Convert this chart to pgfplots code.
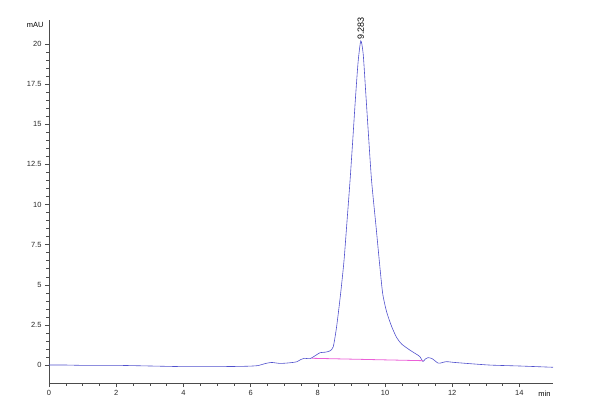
\documentclass[border=0pt]{standalone}
\usepackage{fontspec}
\setmainfont{Liberation Sans}
\usepackage{pgfplots}
\pgfplotsset{compat=1.18}
\definecolor{trace}{RGB}{80,80,205}
\definecolor{base}{RGB}{235,95,215}
\begin{document}
\begin{tikzpicture}
\begin{axis}[
  scale only axis,
  width=504bp, height=363bp,
  xmin=0, xmax=15, ymin=-1.12, ymax=21.5,
  axis lines*=left,
  axis line style={black!70, line width=0.5pt},
  xtick={0,2,...,14}, ytick={0,2.5,...,20},
  minor x tick num=3, minor y tick num=4,
  tick align=outside,
  major tick length=4bp, minor tick length=2.5bp,
  tick style={black!70, line width=0.5pt},
  every tick label/.style={font=\fontsize{7.5}{8}\selectfont, text=black!85},
  /pgf/number format/assume math mode=true,
  yticklabel style={/pgf/number format/fixed},
  xlabel={min}, ylabel={mAU},
  xlabel style={at={(rel axis cs:0.983,0)}, anchor=north, yshift=-5bp, font=\fontsize{7.5}{8}\selectfont},
  ylabel style={at={(rel axis cs:0,0.985)}, anchor=east, rotate=-90, xshift=-2bp, font=\fontsize{7.5}{8}\selectfont},
  clip=false,
]
\addplot[trace, line width=0.6pt, smooth, tension=0.4] coordinates {
(0,0) (0.5,0.0) (1,-0.02) (2,-0.02) (3,-0.06) (4,-0.1) (5,-0.1) (5.8,-0.08)
(6.2,-0.04) (6.45,0.1) (6.63,0.16) (6.88,0.1) (7.17,0.14) (7.37,0.2) (7.5,0.35)
(7.6,0.42) (7.77,0.4) (7.95,0.62) (8.07,0.77) (8.22,0.8) (8.36,0.88) (8.46,1.14)
(8.56,2.39) (8.68,4.47) (8.78,6.5) (8.86,8.7) (8.96,11.5) (9.04,14.0)
(9.12,16.6) (9.20,18.9) (9.28,20.2) (9.35,19.4) (9.42,17.2) (9.50,14.6)
(9.60,11.5) (9.73,8.7) (9.83,6.5) (9.93,4.47) (10.05,3.3) (10.2,2.39) (10.35,1.7)
(10.5,1.3) (10.74,0.93) (10.9,0.72) (11.04,0.52) (11.13,0.22) (11.2,0.38)
(11.28,0.46) (11.4,0.4) (11.58,0.12) (11.7,0.15) (11.83,0.21) (12.13,0.15)
(13.1,0.0) (14.0,-0.06) (15.0,-0.14)
};
\addplot[base, line width=0.8pt] coordinates {(7.82,0.42) (11.14,0.27)};
\node[rotate=90, anchor=west, font=\fontsize{9}{10}\selectfont, inner sep=1bp] at (axis cs:9.283,20.2) {9.283};
\end{axis}
\pgfresetboundingbox
\path[use as bounding box] ([xshift=-49bp,yshift=-35bp]current axis.south west) rectangle ([xshift=39bp,yshift=20bp]current axis.north east);
\end{tikzpicture}
\end{document}
